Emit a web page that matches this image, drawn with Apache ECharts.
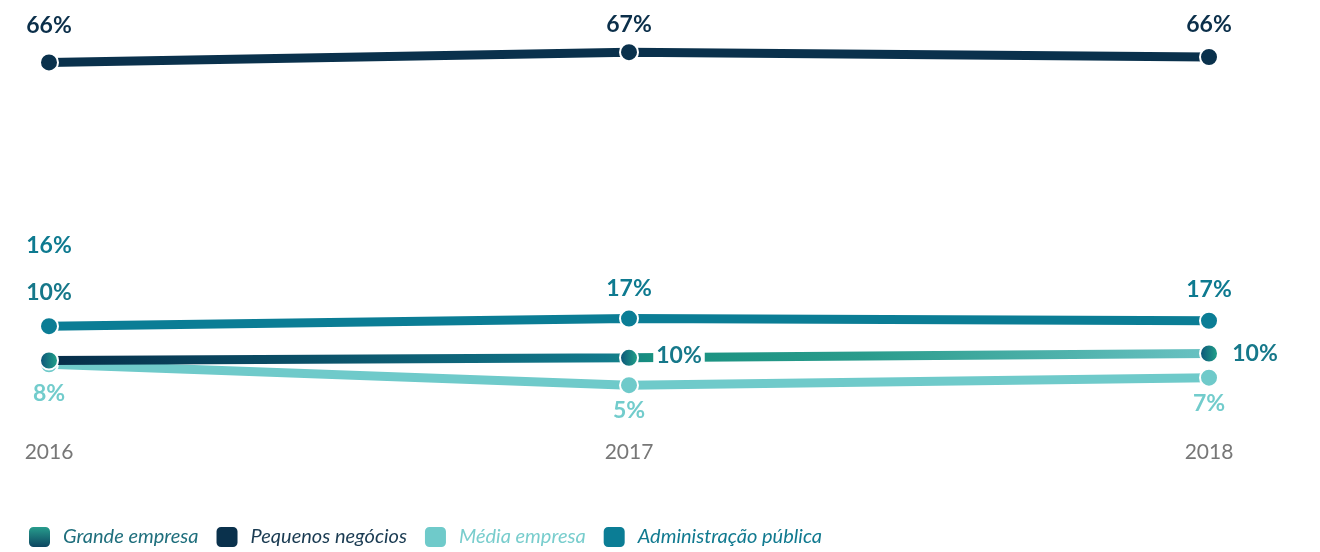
<!DOCTYPE html>
<html>
<head>
<meta charset="utf-8">
<script src="https://cdn.jsdelivr.net/npm/echarts@6/dist/echarts.min.js"></script>
<style>
  html, body { margin: 0; padding: 0; background: #fff; }
  #chart { width: 1320px; height: 552px; }
</style>
</head>
<body>
<div id="chart"></div>
<script>
// dados
const years = ['2016', '2017', '2018'];

const grandeEmpresa = [9.4, 9.9, 10.7];
const grandeLabels = ['10%', '10%', '10%'];

const pequenosNegocios = [64.9, 66.8, 65.9];
const pequenosLabels = ['66%', '67%', '66%'];

const mediaEmpresa = [8.7, 4.8, 6.2];
const mediaLabels = ['8%', '5%', '7%'];

const adminPublica = [15.8, 17.2, 16.8];
const adminLabels = ['16%', '17%', '17%'];

const G = echarts.graphic;
const navy = '#0a314c';
const teal = '#0b7d95';
const light = '#6fcaca';

// posicao dos rotulos (centro do texto em relacao ao ponto)
const offsets = {
  grande: [[0, -68], [50, -2], [46, 0]],
  pequenos: [[0, -37], [0, -28], [0, -32]],
  media: [[0, 29], [0, 25], [0, 26]],
  admin: [[0, -81], [0, -30], [0, -31]]
};

function buildData(values, labels, offs, color, bg) {
  return values.map((v, i) => ({
    value: v,
    label: {
      show: true,
      formatter: labels[i],
      position: 'inside',
      offset: offs[i],
      color: color,
      fontFamily: 'Lato',
      fontWeight: 'bold',
      fontSize: 23,
      backgroundColor: bg ? '#fff' : 'transparent',
      padding: bg ? [2, 3] : 0
    }
  }));
}

function lineSeries(name, data, lineColor, symColor, z) {
  return {
    name: name,
    type: 'line',
    data: data,
    z: z,
    symbol: 'circle',
    symbolSize: 18,
    showAllSymbol: true,
    lineStyle: { width: 9, color: lineColor },
    itemStyle: { color: symColor, borderColor: '#fff', borderWidth: 2 },
    emphasis: { disabled: true },
    animation: false
  };
}

const grandeLine = new G.LinearGradient(0, 0, 1, 0, [
  { offset: 0, color: '#062c48' },
  { offset: 0.48, color: '#127a8c' },
  { offset: 0.52, color: '#18907f' },
  { offset: 0.7, color: '#2a9c8c' },
  { offset: 1, color: '#6ac2c3' }
]);
const grandeSym = new G.LinearGradient(0, 0, 1, 0, [
  { offset: 0, color: '#0c4f78' },
  { offset: 1, color: '#22a88a' }
]);
const grandeIcon = new G.LinearGradient(0, 0, 0, 1, [
  { offset: 0, color: '#2aa591' },
  { offset: 1, color: '#0a3d5c' }
]);

const chart = echarts.init(document.getElementById('chart'), null, { renderer: 'canvas' });

chart.setOption({
  backgroundColor: '#fff',
  animation: false,
  grid: { left: 49, right: 111, top: 35, bottom: 141, containLabel: false, outerBoundsMode: 'none' },
  xAxis: {
    type: 'category',
    data: years,
    boundaryGap: false,
    axisLine: { show: false },
    axisTick: { show: false },
    splitLine: { show: false },
    axisLabel: { color: '#777', fontSize: 21, fontFamily: 'Lato', margin: 31 }
  },
  yAxis: { type: 'value', min: 0, max: 70, show: false },
  legend: {
    left: 22,
    top: 520,
    padding: [5, 5, 5, 5],
    icon: 'roundRect',
    itemWidth: 23,
    itemHeight: 22,
    itemGap: 16,
    selectedMode: false,
    textStyle: { fontFamily: 'Lato', fontStyle: 'italic', fontSize: 20, padding: [0, 0, 0, 7] },
    data: [
      { name: 'Grande empresa', itemStyle: { color: grandeIcon }, textStyle: { color: '#1f6f7d' } },
      { name: 'Pequenos negócios', itemStyle: { color: navy }, textStyle: { color: '#1a3b52' } },
      { name: 'Média empresa', itemStyle: { color: light }, textStyle: { color: '#78cdcd' } },
      { name: 'Administração pública', itemStyle: { color: teal }, textStyle: { color: '#117a90' } }
    ]
  },
  series: [
    lineSeries('Média empresa', buildData(mediaEmpresa, mediaLabels, offsets.media, '#72cccc'), light, light, 2),
    lineSeries('Grande empresa', buildData(grandeEmpresa, grandeLabels, offsets.grande, '#16788a', true), grandeLine, grandeSym, 3),
    lineSeries('Pequenos negócios', buildData(pequenosNegocios, pequenosLabels, offsets.pequenos, '#0b2f4a'), navy, navy, 4),
    lineSeries('Administração pública', buildData(adminPublica, adminLabels, offsets.admin, '#0e7a90'), teal, teal, 5)
  ]
});
</script>
</body>
</html>
